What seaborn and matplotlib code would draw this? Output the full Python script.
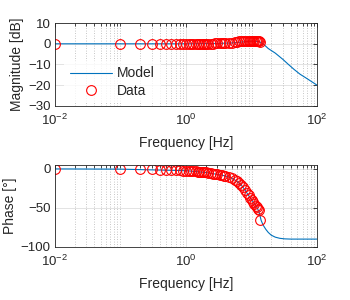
import numpy as np
import pandas as pd
import matplotlib
matplotlib.use('Agg')
import matplotlib.pyplot as plt
import matplotlib.ticker as mticker
import seaborn as sns

# Model curve
model_freq_mag = [0.01, 0.1, 1.0, 3.0, 5.0, 8.0, 10.0, 13.0, 15.0, 18.0, 23.0, 30.0, 36.0, 45.0, 55.0, 70.0, 100.0]
model_mag = [0.0, 0.0, 0.0, 0.2, 0.4, 1.0, 1.3, 1.1, 0.0, -2.3, -4.5, -7.5, -9.8, -12.5, -14.7, -16.8, -20.0]

model_freq_ph = [0.01, 0.1, 1.0, 2.0, 3.0, 4.0, 5.0, 6.0, 7.0, 8.0, 9.0, 10.0, 11.0, 12.0, 13.0, 14.0,
                 15.0, 16.5, 18.0, 20.0, 23.0, 27.0, 32.0, 40.0, 60.0, 100.0]
model_phase = [0.0, -0.3, -2.3, -4.6, -7.0, -9.0, -12.0, -16.0, -20.7, -27.5, -34.0, -39.5, -44.5, -49.0,
               -55.0, -66.0, -72.0, -77.5, -81.5, -85.0, -87.5, -89.0, -89.7, -90.0, -90.0, -90.0]

# Measured data points
data_freq = [0.01, 0.1, 0.2, 0.3, 0.4, 0.5, 0.6, 0.7, 0.8, 0.9, 1.0, 1.1, 1.2, 1.3, 1.4, 1.5, 1.6, 1.7,
             1.8, 1.9, 2.0, 2.2, 2.4, 2.6, 2.8, 3.0, 3.25, 3.5, 3.75, 4.0, 4.5, 5.0, 5.5, 6.0, 6.5, 7.0,
             7.5, 8.0, 8.5, 9.0, 9.5, 10.0, 10.5, 11.0, 11.5, 12.0, 12.5, 13.0, 13.6]
data_mag = [0.0, 0.0, 0.0, 0.0, 0.0, 0.0, 0.0, 0.0, 0.0, 0.0, 0.0, 0.0, 0.0, 0.0, 0.0, 0.0, 0.0, 0.0,
            0.0, 0.0, 0.1, 0.1, 0.1, 0.1, 0.2, 0.2, 0.2, 0.3, 0.3, 0.4, 0.5, 0.6, 0.8, 1.0, 1.2, 1.4,
            1.5, 1.5, 1.5, 1.5, 1.5, 1.5, 1.5, 1.4, 1.4, 1.3, 1.3, 1.2, 1.0]
data_phase = [0.0, -0.3, -0.5, -0.7, -1.0, -1.2, -1.4, -1.6, -1.9, -2.1, -2.3, -2.5, -2.8, -3.0, -3.2,
              -3.5, -3.7, -3.9, -4.1, -4.4, -4.6, -5.1, -5.5, -6.0, -6.5, -7.0, -7.5, -8.0, -8.5, -9.0,
              -10.5, -12.0, -14.0, -16.0, -18.3, -20.7, -23.5, -27.5, -31.0, -34.0, -37.0, -39.5, -42.0,
              -44.5, -47.0, -49.0, -51.0, -52.5, -66.0]

df_model_mag = pd.DataFrame({'f': model_freq_mag, 'v': model_mag})
df_model_ph = pd.DataFrame({'f': model_freq_ph, 'v': model_phase})
df_data = pd.DataFrame({'f': data_freq, 'mag': data_mag, 'ph': data_phase})

sns.set_theme(style='white')
plt.rcParams['font.family'] = ['Liberation Sans', 'DejaVu Sans']
plt.rcParams['mathtext.fontset'] = 'custom'
plt.rcParams['mathtext.rm'] = 'Liberation Sans'
plt.rcParams['mathtext.it'] = 'Liberation Sans'

dark = '#262626'
blue = '#0072BD'

fig = plt.figure(figsize=(3.5, 3.0), dpi=100)
ax1 = fig.add_axes([0.157, 0.647, 0.749, 0.276])
ax2 = fig.add_axes([0.157, 0.177, 0.749, 0.273])

for ax, dfm, col, ylab in [(ax1, df_model_mag, 'mag', 'Magnitude [dB]'), (ax2, df_model_ph, 'ph', 'Phase [°]')]:
    sns.lineplot(data=dfm, x='f', y='v', ax=ax, color=blue, linewidth=0.8, label='Model',
                 sort=False, estimator=None)
    sns.lineplot(data=df_data, x='f', y=col, ax=ax, linestyle='none', marker='o', markersize=7,
                 markerfacecolor='none', markeredgecolor='red', markeredgewidth=0.8, color='red',
                 label='Data', sort=False, estimator=None)
    ax.set_xscale('log')
    ax.set_xlim(1e-2, 1e2)
    ax.xaxis.set_major_locator(mticker.FixedLocator([1e-2, 1e0, 1e2]))
    ax.xaxis.set_major_formatter(mticker.LogFormatterMathtext())
    ax.xaxis.set_minor_locator(mticker.LogLocator(base=10, subs=np.arange(1, 10), numticks=20))
    ax.xaxis.set_minor_formatter(mticker.NullFormatter())
    ax.grid(which='major', color=dark, alpha=0.15, linewidth=0.6)
    ax.grid(which='minor', axis='x', color=dark, alpha=0.35, linewidth=0.6, linestyle=(0, (1, 2)))
    ax.tick_params(which='both', direction='in', top=True, right=True, colors=dark,
                   labelsize=9.5, width=0.6, pad=3)
    ax.tick_params(axis='x', which='major', pad=5)
    ax.tick_params(which='major', length=3)
    ax.tick_params(which='minor', length=1.8)
    for s in ax.spines.values():
        s.set_color(dark)
        s.set_linewidth(0.6)
    ax.set_xlabel('Frequency [Hz]', fontsize=10, color=dark, labelpad=6)
    ax.set_ylabel(ylab, fontsize=10, color=dark, labelpad=3)
    ax.set_axisbelow(True)

ax1.set_ylim(-30, 10)
ax1.set_yticks([-30, -20, -10, 0, 10])
ax2.set_ylim(-100, 5)
ax2.set_yticks([-100, -50, 0])

ax2.get_legend().remove()
leg = ax1.legend(loc='lower left', bbox_to_anchor=(0.02, -0.02), frameon=True, fontsize=10,
                 handlelength=3.0, handletextpad=0.4, labelspacing=0.25, borderaxespad=0.3)
leg.get_frame().set_facecolor('white')
leg.get_frame().set_edgecolor('none')
for t in leg.get_texts():
    t.set_color(dark)

fig.savefig('out.png', dpi=100)
